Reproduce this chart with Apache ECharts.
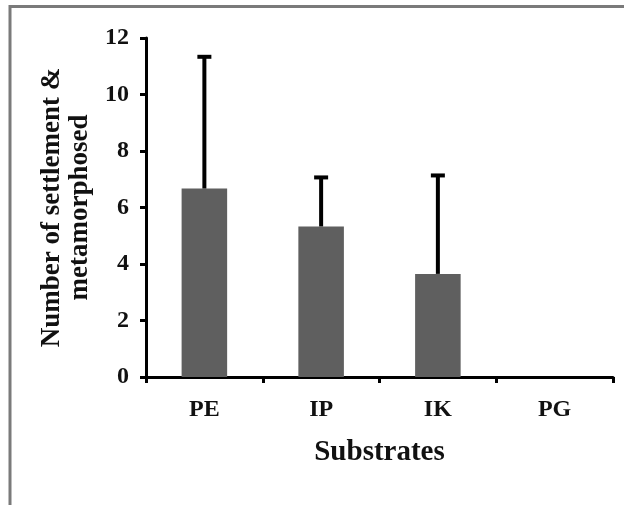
<!DOCTYPE html>
<html>
<head>
<meta charset="utf-8">
<script src="https://cdn.jsdelivr.net/npm/echarts@6/dist/echarts.min.js"></script>
<style>html,body{margin:0;padding:0;background:#fff;}#c{width:624px;height:505px;}</style>
</head>
<body>
<div id="c"></div>
<script>
var categories = ['PE', 'IP', 'IK', 'PG'];
var means = [6.67, 5.33, 3.65, 0];
var errors = [4.7, 1.77, 3.52, 0];
var yTicks = [0, 2, 4, 6, 8, 10, 12];

var FONT = '"Liberation Serif", "Times New Roman", serif';
var chart = echarts.init(document.getElementById('c'), null, {renderer: 'canvas'});

var errData = categories.map(function (c, i) { return [i, means[i], means[i] + errors[i]]; });

chart.setOption({
  backgroundColor: '#ffffff',
  animation: false,
  graphic: [{
    type: 'rect',
    shape: {x: 10, y: 6.5, width: 700, height: 600},
    style: {fill: 'none', stroke: '#7a7a7a', lineWidth: 3},
    silent: true, z: -1
  }],
  grid: {left: 146, right: 11, top: 38, bottom: 128},
  xAxis: {
    type: 'category',
    data: categories,
    boundaryGap: true,
    axisLine: {lineStyle: {color: '#000', width: 3}},
    axisTick: {show: true, length: 6, lineStyle: {color: '#000', width: 3}},
    axisLabel: {color: '#111', fontFamily: FONT, fontWeight: 'bold', fontSize: 24, margin: 21},
    name: 'Substrates',
    nameLocation: 'middle',
    nameGap: 61,
    nameTextStyle: {color: '#111', fontFamily: FONT, fontWeight: 'bold', fontSize: 29}
  },
  yAxis: {
    type: 'value',
    min: yTicks[0],
    max: yTicks[yTicks.length - 1],
    interval: 2,
    splitLine: {show: false},
    axisLine: {show: true, lineStyle: {color: '#000', width: 3}},
    axisTick: {show: true, length: 6, lineStyle: {color: '#000', width: 3}},
    axisLabel: {color: '#111', fontFamily: FONT, fontWeight: 'bold', fontSize: 24, margin: 17},
    name: 'Number of settlement &\nmetamorphosed',
    nameLocation: 'middle',
    nameGap: 50,
    nameTextStyle: {color: '#111', fontFamily: FONT, fontWeight: 'bold', fontSize: 27, lineHeight: 28}
  },
  series: [{
    type: 'bar',
    data: means,
    barWidth: '39%',
    itemStyle: {color: '#5f5f5f'},
    z: 2
  }, {
    type: 'custom',
    data: errData,
    z: 3,
    renderItem: function (params, api) {
      var x = api.value(0);
      var base = api.coord([x, api.value(1)]);
      var top = api.coord([x, api.value(2)]);
      if (api.value(2) <= api.value(1)) return null;
      var capW = 7;
      return {
        type: 'group',
        children: [{
          type: 'line',
          shape: {x1: base[0], y1: base[1], x2: top[0], y2: top[1]},
          style: {stroke: '#000', lineWidth: 4}
        }, {
          type: 'line',
          shape: {x1: top[0] - capW, y1: top[1] + 1, x2: top[0] + capW, y2: top[1] + 1},
          style: {stroke: '#000', lineWidth: 4}
        }]
      };
    }
  }]
});
</script>
</body>
</html>
